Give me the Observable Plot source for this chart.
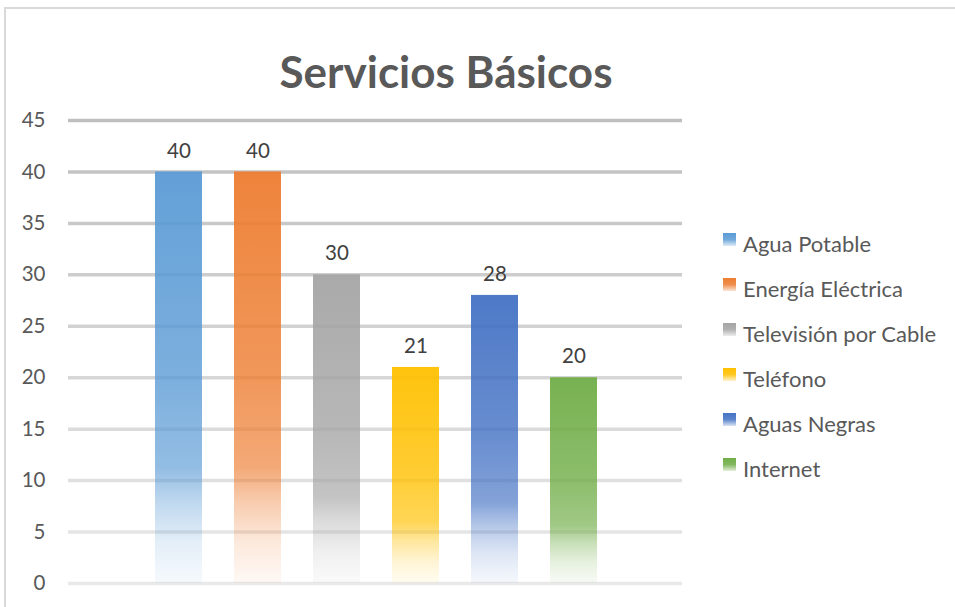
<!DOCTYPE html>
<html><head><meta charset="utf-8">
<script src="https://cdn.jsdelivr.net/npm/d3@7"></script>
<script src="https://cdn.jsdelivr.net/npm/@observablehq/plot@0.6"></script>
<style>
body{margin:0;background:#fff;}
#wrap{position:relative;width:955px;height:607px;overflow:hidden;font-family:Lato,"Open Sans",sans-serif;background:#fff;}
#frame{position:absolute;left:4px;top:7px;width:1100px;height:800px;border:2px solid #d9d9d9;box-sizing:border-box;}
#title{position:absolute;top:49px;left:0;width:892px;text-align:center;font-size:44px;line-height:44px;font-weight:bold;color:#595959;}
#chart{position:absolute;left:0;top:0;}
#legend{position:absolute;left:723px;top:233px;}
.item{position:relative;height:45px;width:230px;}
.sw{position:absolute;left:0;top:0;width:13px;height:13px;}
.lab{position:absolute;left:20px;top:0;font-size:22px;line-height:21px;color:#595959;white-space:nowrap;}
</style></head>
<body><div id="wrap"><div id="frame"></div><div id="chart"></div><div id="title">Servicios Básicos</div><div id="legend"></div></div>
<script>
const categories = ["Agua Potable","Energía Eléctrica","Televisión por Cable","Teléfono","Aguas Negras","Internet"];
const values = [40, 40, 30, 21, 28, 20];
const colors = ["#5B9BD5","#ED7D31","#A5A5A5","#FFC000","#4472C4","#70AD47"];
const yTicks = [0,5,10,15,20,25,30,35,40,45];

const data = categories.map((c,i)=>({cat:c, value:values[i], fill:`url(#g${i})`}));

const W = 955, H = 607, mL = 68, mR = 273, mT = 120, mB = 24;

const defs = () => {
  const d = d3.create("svg:defs");
  colors.forEach((c,i)=>{
    const g = d.append("linearGradient").attr("id","g"+i).attr("x1",0).attr("y1",0).attr("x2",0).attr("y2",1);
    [[0,0.95],[0.5,0.8],[0.72,0.66],[0.8,0.4],[0.9,0.17],[1,0.05]].forEach(([o,op])=>{
      g.append("stop").attr("offset",o).attr("stop-color",c).attr("stop-opacity",op);
    });
  });
  const gg = d.append("linearGradient").attr("id","gridg").attr("gradientUnits","userSpaceOnUse")
    .attr("x1",0).attr("y1",mT).attr("x2",0).attr("y2",H-mB);
  gg.append("stop").attr("offset",0).attr("stop-color","#bfbfbf");
  gg.append("stop").attr("offset",1).attr("stop-color","#e9e9e9");
  return d.node();
};

const chart = Plot.plot({
  width: W, height: H,
  marginLeft: mL, marginRight: mR, marginTop: mT, marginBottom: mB,
  style: {fontFamily: "Lato, 'Open Sans', sans-serif", background: "transparent"},
  x: {domain: categories, range: [121, 631], padding: 0.4, axis: null},
  y: {domain: [0,45], ticks: yTicks, tickSize: 0, tickPadding: 23, label: null},
  color: {type: "identity"},
  marks: [
    defs,
    Plot.ruleY(yTicks, {stroke: "url(#gridg)", strokeWidth: 3.5}),
    Plot.axisY({ticks: yTicks, tickSize: 0, tickPadding: 23, fontSize: 20.5, fill: "#595959", label: null}),
    Plot.barY(data, {x: "cat", y: "value", fill: "fill"}),
    Plot.text(data, {x: "cat", y: "value", text: d => String(d.value), dy: -21, fontSize: 20.5, fill: "#404040", lineAnchor: "middle"})
  ]
});
document.getElementById("chart").appendChild(chart);

const leg = document.getElementById("legend");
categories.forEach((c,i)=>{
  const it = document.createElement("div"); it.className="item";
  const sw = document.createElement("div"); sw.className="sw";
  sw.style.background = `linear-gradient(to bottom, ${colors[i]} 0%, ${colors[i]}dd 50%, ${colors[i]}33 100%)`;
  const lb = document.createElement("div"); lb.className="lab"; lb.textContent = c;
  it.appendChild(sw); it.appendChild(lb); leg.appendChild(it);
});
</script></body></html>
